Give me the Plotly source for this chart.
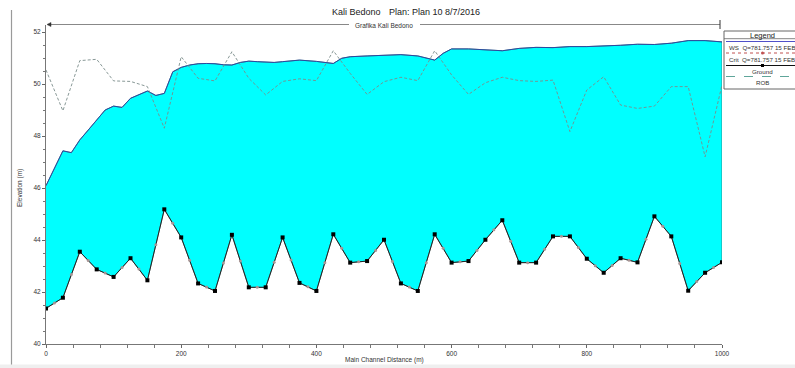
import plotly.graph_objects as go

# ---------------- data ----------------
ground_dist = [0, 25, 50, 75, 100, 125, 150, 175, 200, 225, 250, 275, 300, 325, 350, 375, 400,
               425, 450, 475, 500, 525, 550, 575, 600, 625, 650, 675, 700, 725, 750, 775, 800,
               825, 850, 875, 900, 925, 950, 975, 1000]
ground_elev = [41.37, 41.78, 43.55, 42.87, 42.58, 43.30, 42.45, 45.18, 44.10, 42.33, 42.04, 44.20,
               42.18, 42.18, 44.10, 42.35, 42.04, 44.22, 43.13, 43.19, 44.01, 42.33, 42.04, 44.22,
               43.13, 43.19, 44.01, 44.76, 43.13, 43.13, 44.14, 44.14, 43.28, 42.74, 43.30, 43.14,
               44.91, 44.14, 42.05, 42.74, 43.14]

interp_dist = [12.5, 37.5, 62.5, 87.5, 112.5, 137.5, 162.5, 187.5, 212.5, 237.5, 262.5, 287.5,
               312.5, 337.5, 362.5, 387.5, 412.5, 437.5, 462.5, 487.5, 512.5, 537.5, 562.5, 587.5,
               612.5, 637.5, 662.5, 687.5, 712.5, 737.5, 762.5, 787.5, 812.5, 837.5, 862.5, 887.5,
               912.5, 937.5, 962.5, 987.5]
interp_elev = [41.58, 42.67, 43.21, 42.73, 42.94, 42.88, 43.82, 44.64, 43.22, 42.19, 43.12, 43.19,
               42.18, 43.14, 43.23, 42.20, 43.13, 43.68, 43.16, 43.60, 43.17, 42.19, 43.13, 43.68,
               43.16, 43.60, 44.39, 43.95, 43.13, 43.64, 44.14, 43.71, 43.01, 43.02, 43.22, 44.03,
               44.53, 43.10, 42.40, 42.94]

ws_dist = [0, 12.5, 25, 37.5, 50, 62.5, 75, 87.5, 100, 112.5, 125, 137.5, 150, 162.5, 175, 187.5,
           200, 212.5, 225, 237.5, 250, 262.5, 275, 287.5, 300, 312.5, 325, 337.5, 350, 362.5, 375,
           400, 425, 437.5, 450, 475, 500, 525, 550, 575, 587.5, 600, 625, 650, 675, 700, 725, 750,
           775, 800, 825, 850, 875, 900, 925, 950, 975, 1000]
ws_elev = [46.09, 46.76, 47.43, 47.36, 47.85, 48.23, 48.62, 49.00, 49.15, 49.10, 49.45, 49.60,
           49.73, 49.56, 49.64, 50.47, 50.64, 50.73, 50.78, 50.79, 50.78, 50.74, 50.73, 50.83,
           50.88, 50.86, 50.85, 50.83, 50.86, 50.90, 50.92, 50.87, 50.79, 50.99, 51.05, 51.08,
           51.10, 51.13, 51.08, 50.92, 51.18, 51.35, 51.35, 51.31, 51.28, 51.37, 51.41, 51.40,
           51.44, 51.44, 51.46, 51.49, 51.53, 51.52, 51.57, 51.67, 51.67, 51.62]

rob_dist = ground_dist
rob_elev = [50.54, 48.97, 50.90, 50.95, 50.12, 50.10, 49.90, 48.30, 51.05, 50.22, 50.12, 51.24,
            50.22, 49.58, 50.10, 50.20, 50.13, 51.28, 50.41, 49.60, 50.09, 50.26, 50.13, 51.28,
            50.35, 49.60, 50.05, 50.26, 50.13, 50.10, 50.15, 48.17, 49.77, 50.28, 49.19, 49.06,
            49.15, 49.90, 49.90, 47.20, 49.96]

title_parts = ["Kali Bedono", "Plan: Plan 10", "8/7/2016"]
subtitle = "Grafika Kali Bedono"
legend_labels = ["WS  Q=781.757 15 FEB", "Crit  Q=781.757 15 FEB", "Ground", "ROB"]
x_title = "Main Channel Distance (m)"
y_title = "Elevation (m)"

# ---------------- layout helpers ----------------
W, H = 795, 368
L, R, T, B = 46, 722, 25, 344
FONT = "Arial, Liberation Sans, sans-serif"


def px(x):
    return (x - L) / (R - L)


def py(y):
    return (B - y) / (B - T)


fig = go.Figure()

# cyan water polygon (WS forward, ground backward)
fig.add_trace(go.Scatter(
    x=ws_dist + ground_dist[::-1], y=ws_elev + ground_elev[::-1],
    mode="lines", fill="toself", fillcolor="#00FFFF",
    line=dict(color="#3a6a6a", width=0.7), hoverinfo="skip", showlegend=False))

# WS line
fig.add_trace(go.Scatter(x=ws_dist, y=ws_elev, mode="lines",
                         line=dict(color="#2a4aa0", width=1), showlegend=False))

# ROB
fig.add_trace(go.Scatter(x=rob_dist, y=rob_elev, mode="lines",
                         line=dict(color="#7a8c8a", width=0.9, dash="3px,2px"),
                         showlegend=False))

# ground
fig.add_trace(go.Scatter(x=ground_dist, y=ground_elev, mode="lines+markers",
                         line=dict(color="#222222", width=1),
                         marker=dict(symbol="square", size=4, color="#000000"),
                         showlegend=False))
fig.add_trace(go.Scatter(x=interp_dist, y=interp_elev, mode="markers",
                         marker=dict(symbol="circle", size=3, color="#a89494"),
                         showlegend=False))

shapes = []
annotations = []

# title
for txt, cx in zip(title_parts, [356, 416, 462]):
    annotations.append(dict(text=txt, x=px(cx), y=py(12), xref="paper", yref="paper",
                            showarrow=False, xanchor="center", yanchor="middle",
                            font=dict(family=FONT, size=9, color="#222")))
# subtitle with line
annotations.append(dict(text=subtitle, x=px(384), y=py(25), xref="paper", yref="paper",
                        showarrow=False, xanchor="center", yanchor="middle",
                        font=dict(family=FONT, size=6.5, color="#333")))
shapes.append(dict(type="line", xref="paper", yref="paper", x0=px(48), x1=px(349),
                   y0=py(24.5), y1=py(24.5), line=dict(color="#888", width=1.2)))
shapes.append(dict(type="line", xref="paper", yref="paper", x0=px(420), x1=px(720),
                   y0=py(24.5), y1=py(24.5), line=dict(color="#888", width=1.2)))
shapes.append(dict(type="line", xref="paper", yref="paper", x0=px(720), x1=px(720),
                   y0=py(20), y1=py(29), line=dict(color="#333", width=1)))
shapes.append(dict(type="path", xref="paper", yref="paper",
                   path=f"M {px(47)} {py(24.5)} L {px(51)} {py(22.5)} L {px(51)} {py(26.5)} Z",
                   fillcolor="#333", line=dict(color="#333", width=0.5)))

# frame at left of window and bottom strip
shapes.append(dict(type="line", xref="paper", yref="paper", x0=px(11.5), x1=px(11.5),
                   y0=py(10), y1=py(368), line=dict(color="#9a9a9a", width=1.2)))
shapes.append(dict(type="rect", xref="paper", yref="paper", x0=px(0), x1=px(795),
                   y0=py(364.5), y1=py(368), fillcolor="#efefef", line=dict(width=0)))

# axis titles
annotations.append(dict(text=x_title, x=px(385), y=py(360), xref="paper", yref="paper",
                        showarrow=False, xanchor="center", yanchor="middle",
                        font=dict(family=FONT, size=6.5, color="#333")))
annotations.append(dict(text=y_title, x=px(20), y=py(188), xref="paper", yref="paper",
                        showarrow=False, xanchor="center", yanchor="middle", textangle=-90,
                        font=dict(family=FONT, size=6.5, color="#333")))

# legend box
shapes.append(dict(type="rect", xref="paper", yref="paper", x0=px(724), x1=px(800),
                   y0=py(31), y1=py(89), line=dict(color="#666", width=1), fillcolor="white"))
shapes.append(dict(type="line", xref="paper", yref="paper", x0=px(724), x1=px(800),
                   y0=py(38.7), y1=py(38.7), line=dict(color="#666", width=0.8)))
annotations.append(dict(text="Legend", x=px(762), y=py(35), xref="paper", yref="paper",
                        showarrow=False, xanchor="center", yanchor="middle",
                        font=dict(family=FONT, size=7.5, color="#222")))
sample_y = [41.5, 53, 65.5, 76.5]
label_y = [47.5, 59.3, 71, 83]
sample_styles = [dict(color="#5050c8", width=1, dash="solid"),
                 dict(color="#c05050", width=1, dash="dot"),
                 dict(color="#111111", width=1, dash="solid"),
                 dict(color="#5fa59a", width=1, dash="dash")]
for sy, st in zip(sample_y, sample_styles):
    shapes.append(dict(type="line", xref="paper", yref="paper", x0=px(726), x1=px(795),
                       y0=py(sy), y1=py(sy), line=st))
shapes.append(dict(type="rect", xref="paper", yref="paper", x0=px(761), x1=px(764),
                   y0=py(64), y1=py(67), fillcolor="#000", line=dict(width=0)))
shapes.append(dict(type="circle", xref="paper", yref="paper", x0=px(761), x1=px(764),
                   y0=py(51.5), y1=py(54.5), fillcolor="#c05050", line=dict(width=0)))
for txt, ly, cx in zip(legend_labels, label_y, [727, 727, 762, 762]):
    annotations.append(dict(text=txt, x=px(cx), y=py(ly), xref="paper", yref="paper",
                            showarrow=False, xanchor="left" if cx == 727 else "center",
                            yanchor="middle",
                            font=dict(family=FONT, size=6.2, color="#333")))

fig.update_layout(
    width=W, height=H,
    margin=dict(l=L, r=W - R, t=T, b=H - B, pad=0),
    paper_bgcolor="white", plot_bgcolor="white",
    showlegend=False,
    shapes=shapes, annotations=annotations,
    xaxis=dict(range=[0, 1000], tickvals=[0, 200, 400, 600, 800, 1000],
               ticks="outside", ticklen=3, tickcolor="#666", showgrid=False, zeroline=False,
               showline=True, linecolor="#777", linewidth=1,
               tickfont=dict(family=FONT, size=6.5, color="#333"),
               minor=dict(dtick=40, tick0=0, ticks="outside", ticklen=3, tickcolor="#777",
                          showgrid=False)),
    yaxis=dict(range=[40, 52.27], tickvals=[40, 42, 44, 46, 48, 50, 52],
               ticks="outside", ticklen=3, tickcolor="#666", showgrid=False, zeroline=False,
               showline=True, linecolor="#777", linewidth=1,
               tickfont=dict(family=FONT, size=6.5, color="#333"),
               minor=dict(dtick=0.5, tick0=40, ticks="outside", ticklen=2, tickcolor="#777",
                          showgrid=False)),
)

fig.write_html("out.html", config={"displayModeBar": False},
               post_script="document.body.style.margin='0';")
